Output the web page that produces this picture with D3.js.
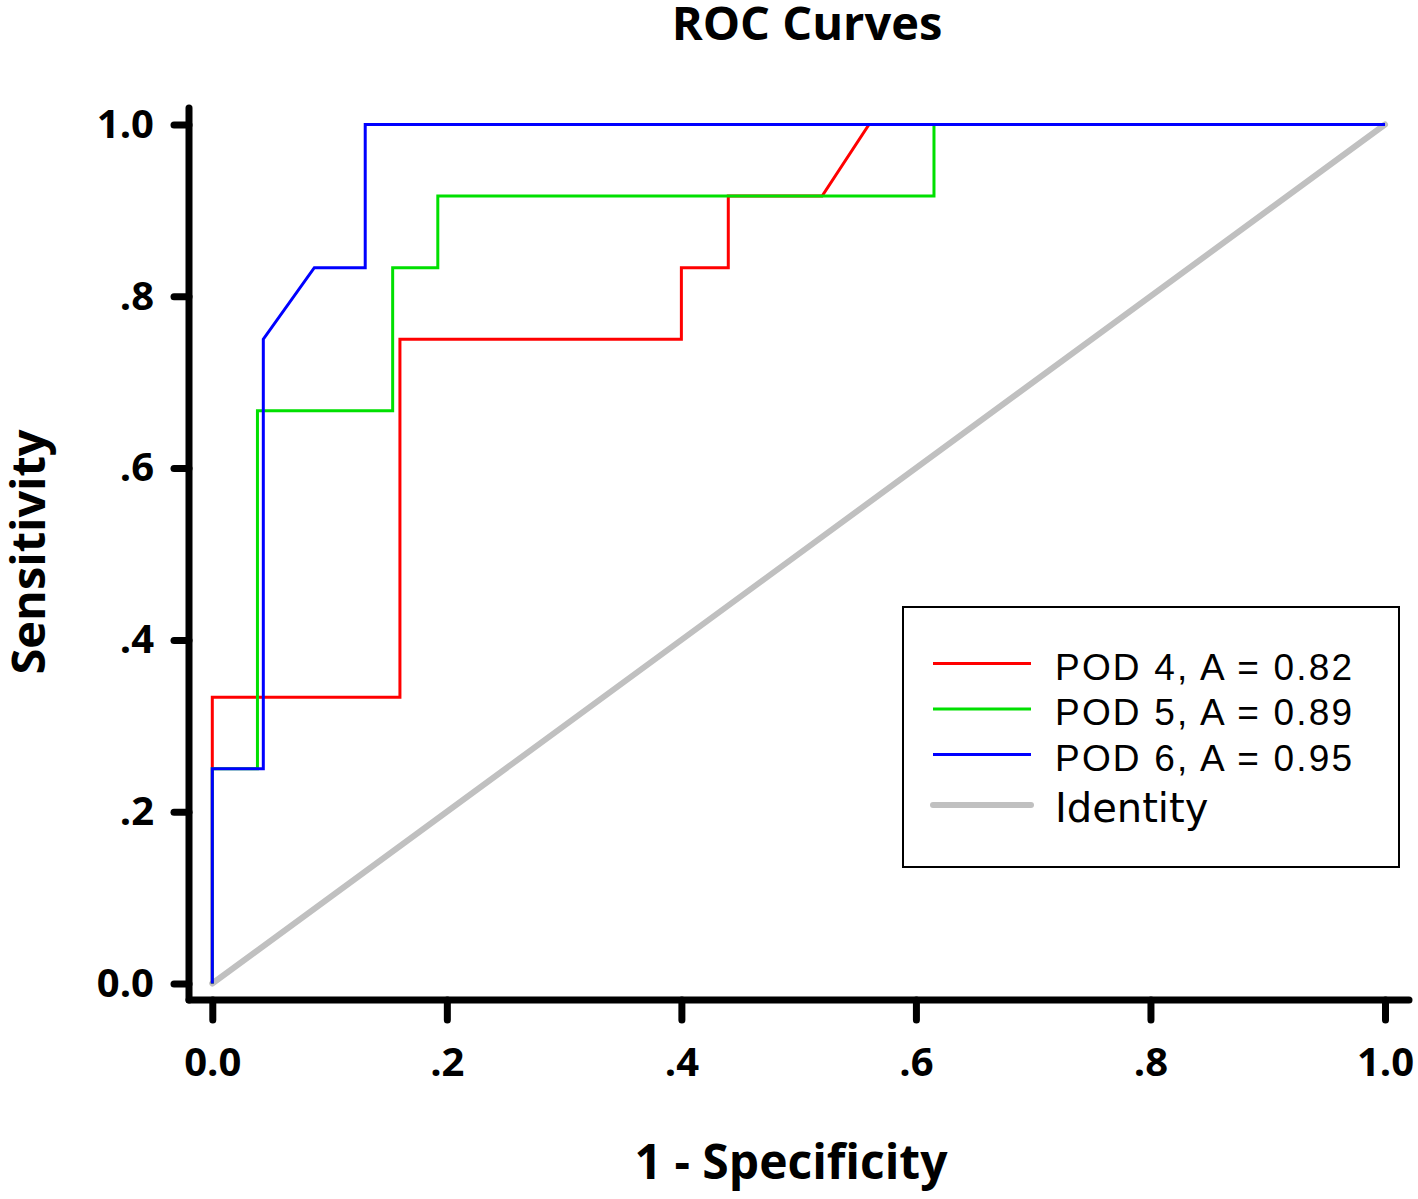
<!DOCTYPE html>
<html><head><meta charset="utf-8">
<script src="https://cdn.jsdelivr.net/npm/d3@7"></script>
<style>body{margin:0;background:#fff}</style>
</head><body>
<svg id="c" width="1418" height="1199"></svg>
<script>
const ticks = [0, 0.2, 0.4, 0.6, 0.8, 1.0];
const tickLabels = ["0.0", ".2", ".4", ".6", ".8", "1.0"];
const seriesNames = ["POD 4, A = 0.82", "POD 5, A = 0.89", "POD 6, A = 0.95", "Identity"];
const seriesColors = ["#ff0000", "#00e000", "#0000ff", "#c0c0c0"];
const pod4FPR = [0, 0, 0.16, 0.16, 0.40, 0.40, 0.44, 0.44, 0.52, 0.56, 1];
const pod4TPR = [0, 0.3333, 0.3333, 0.75, 0.75, 0.8333, 0.8333, 0.9167, 0.9167, 1, 1];
const pod5FPR = [0, 0, 0.0385, 0.0385, 0.1538, 0.1538, 0.1923, 0.1923, 0.6154, 0.6154, 1];
const pod5TPR = [0, 0.25, 0.25, 0.6667, 0.6667, 0.8333, 0.8333, 0.9167, 0.9167, 1, 1];
const pod6FPR = [0, 0, 0.0435, 0.0435, 0.0870, 0.1304, 0.1304, 1];
const pod6TPR = [0, 0.25, 0.25, 0.75, 0.8333, 0.8333, 1, 1];
const identityFPR = [0, 1];
const identityTPR = [0, 1];

const svg = d3.select("#c");
const x = d3.scaleLinear().domain([0, 1]).range([212.3, 1385]);
const y = d3.scaleLinear().domain([0, 1]).range([983.5, 124.5]);
const axisX0 = 189, axisY0 = 1000;
const bold = "'Open Sans', 'DejaVu Sans', sans-serif";

// title
svg.append("text").attr("x", 807).attr("y", 40).attr("text-anchor", "middle")
  .style("font-family", bold).style("font-weight", 700).style("font-size", "47px")
  .text("ROC Curves");

// identity
const line = d3.line().x(d => x(d[0])).y(d => y(d[1]));
const zip = (a, b) => a.map((v, i) => [v, b[i]]);
svg.append("path").datum(zip(identityFPR, identityTPR)).attr("d", line)
  .attr("fill", "none").attr("stroke", seriesColors[3]).attr("stroke-width", 6).attr("stroke-linecap", "round");

const curves = [zip(pod4FPR, pod4TPR), zip(pod5FPR, pod5TPR), zip(pod6FPR, pod6TPR)];
curves.forEach((c, i) => {
  svg.append("path").datum(c).attr("d", line).attr("fill", "none")
    .attr("stroke", seriesColors[i]).attr("stroke-width", 3).attr("stroke-linejoin", "miter");
});

// axes
const fmt = d => tickLabels[ticks.indexOf(d)];
const yAxis = svg.append("g").attr("transform", `translate(${axisX0},0)`)
  .call(d3.axisLeft(y).tickValues(ticks).tickFormat(fmt).tickSize(15).tickPadding(20));
const xAxis = svg.append("g").attr("transform", `translate(0,${axisY0})`)
  .call(d3.axisBottom(x).tickValues(ticks).tickFormat(fmt).tickSize(20).tickPadding(28));
[yAxis, xAxis].forEach(g => {
  g.select(".domain").remove();
  g.selectAll(".tick line").attr("stroke", "#000").attr("stroke-width", 7).attr("stroke-linecap", "round");
  g.selectAll(".tick text").style("font-family", bold).style("font-weight", 700)
    .style("font-size", "40px").attr("fill", "#000");
});
svg.append("line").attr("x1", axisX0).attr("x2", axisX0).attr("y1", 108).attr("y2", axisY0)
  .attr("stroke", "#000").attr("stroke-width", 7).attr("stroke-linecap", "round");
svg.append("line").attr("x1", axisX0).attr("x2", 1409).attr("y1", axisY0).attr("y2", axisY0)
  .attr("stroke", "#000").attr("stroke-width", 7).attr("stroke-linecap", "round");

// axis titles
svg.append("text").attr("x", 791).attr("y", 1179).attr("text-anchor", "middle")
  .style("font-family", bold).style("font-weight", 700).style("font-size", "48px")
  .text("1 - Specificity");
svg.append("text").attr("transform", "translate(45,552) rotate(-90)").attr("text-anchor", "middle")
  .style("font-family", bold).style("font-weight", 700).style("font-size", "47px")
  .text("Sensitivity");

// legend
const lg = svg.append("g");
lg.append("rect").attr("x", 903).attr("y", 607).attr("width", 496).attr("height", 260)
  .attr("fill", "#fff").attr("stroke", "#000").attr("stroke-width", 2);
const rowY = [663.5, 709, 754.5, 805];
const rowBase = [679.5, 725, 770.5, 821.5];
seriesNames.forEach((n, i) => {
  lg.append("line").attr("x1", 933).attr("x2", 1031).attr("y1", rowY[i]).attr("y2", rowY[i])
    .attr("stroke", seriesColors[i]).attr("stroke-width", i === 3 ? 6 : 3)
    .attr("stroke-linecap", i === 3 ? "round" : "butt");
  const t = lg.append("text").attr("x", 1055).attr("y", rowBase[i]).attr("fill", "#000").text(n);
  if (i < 3) {
    t.style("font-family", "'Liberation Sans', Arial, sans-serif").style("font-size", "37px")
      .style("letter-spacing", "2.2px");
  } else {
    t.style("font-family", "'DejaVu Sans', sans-serif").style("font-size", "40px");
  }
});
</script>
</body></html>
